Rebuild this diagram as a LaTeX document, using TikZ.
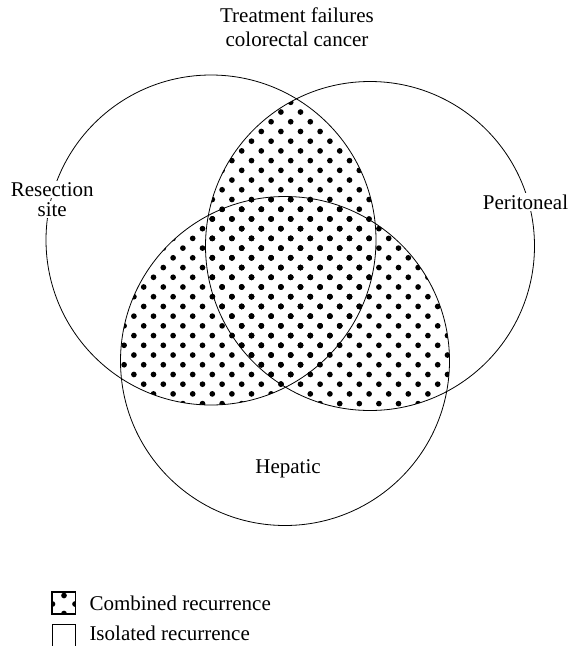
\documentclass[tikz,border=0pt]{standalone}
\usepackage{fontspec}
\setmainfont{Liberation Serif}
\begin{document}
\begin{tikzpicture}[x=1pt,y=-1pt,
  ring/.style={line width=0.8pt},
  boxline/.style={line width=1.1pt},
  lbl/.style={font=\fontsize{21}{24}\selectfont, inner sep=0pt},
  gaplbl/.style={lbl, fill=white, inner xsep=3pt, inner ysep=1.5pt},
  dotr/.style={radius=2.85pt}]
\useasboundingbox (0,0) rectangle (571,646);
\coordinate (cL) at (211,240);
\coordinate (cR) at (370,246);
\coordinate (cB) at (285,361);
% stippled overlaps
\foreach \a/\ra/\b/\rb in {cL/165/cR/164.5, cL/165/cB/164.5, cR/164.5/cB/164.5} {
  \begin{scope}
    \clip (\a) circle[radius=\ra pt];
    \clip (\b) circle[radius=\rb pt];
    \foreach \j in {0,...,33} {
      \foreach \i in {-9,...,9} {
        \pgfmathsetmacro{\xx}{290.7+19.6*\i-9.8*mod(\j,2)}
        \pgfmathsetmacro{\yy}{102.3+9.72*\j}
        \fill (\xx,\yy) circle[dotr];
      }
    }
  \end{scope}
}
% circles
\draw[ring] (cL) circle[radius=165pt];
\draw[ring] (cR) circle[radius=164.5pt];
\draw[ring] (cB) circle[radius=164.5pt];
% labels
\node[lbl, anchor=base] (title1) at (297,22.7) {Treatment failures};
\node[lbl, anchor=base] (title2) at (297,46.7) {colorectal cancer};
\node[gaplbl, anchor=base] (res1) at (52.2,196.7) {Resection};
\node[gaplbl, anchor=base] (res2) at (52.2,216.5) {site};
\node[gaplbl, anchor=base] (perit) at (525.5,209.3) {Peritoneal};
\node[lbl, anchor=base] (hep) at (288,473.3) {Hepatic};
% legend
\node[boxline, draw, minimum width=22.5pt, minimum height=21.5pt, inner sep=0pt] (key1) at (63.8,602.8) {};
\begin{scope}
  \clip (key1.south west) rectangle (key1.north east);
  \fill (64,595.5) circle[dotr];
  \fill (52.5,604) circle[dotr];
  \fill (75,604) circle[dotr];
  \fill (64,613.5) circle[dotr];
\end{scope}
\draw[boxline] (key1.south west) rectangle (key1.north east);
\coordinate (k2a) at (52.55,647);
\coordinate (k2b) at (75.05,624.3);
\draw[boxline] (k2a) |- (k2b) -- (k2b |- k2a);
\node[lbl, anchor=base west] (leg1) at (89.3,610) {Combined recurrence};
\node[lbl, anchor=base west] (leg2) at (89.3,640.3) {Isolated recurrence};
\end{tikzpicture}
\end{document}
